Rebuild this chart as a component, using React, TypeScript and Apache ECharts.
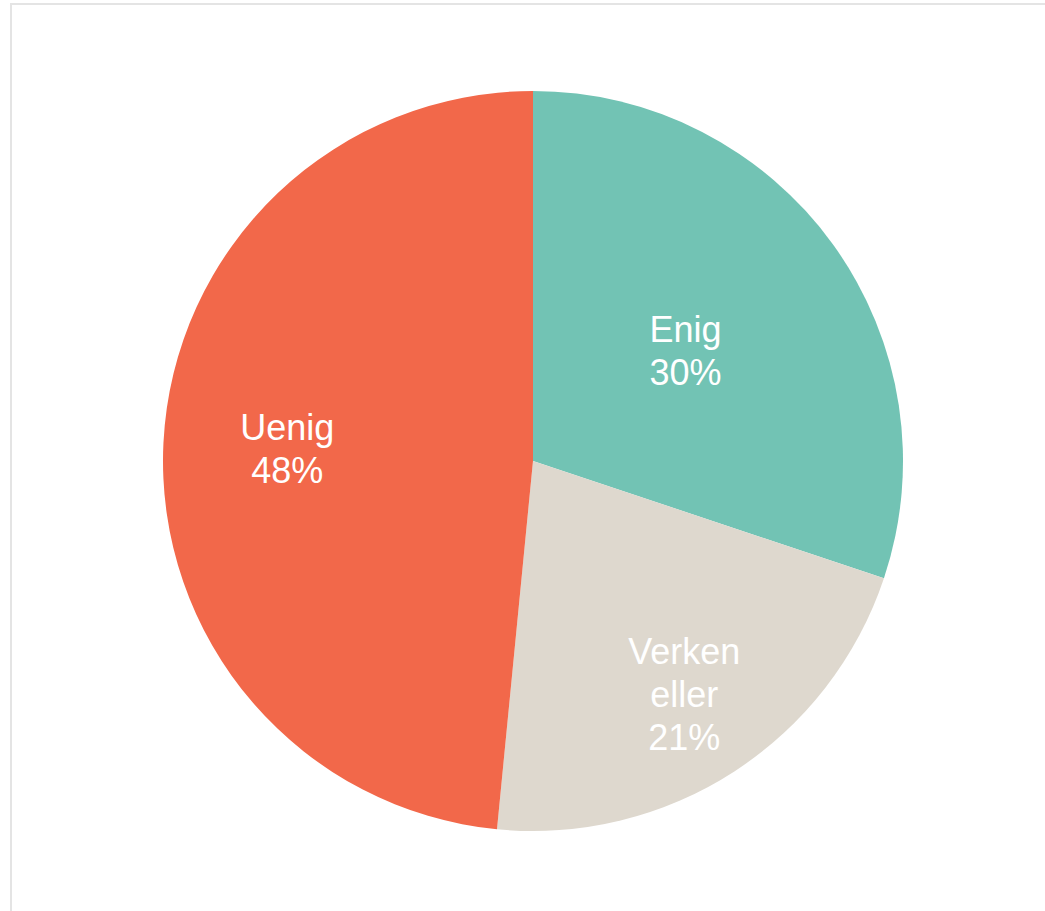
import React, { useEffect, useRef } from "react";
import * as echarts from "echarts";

const categories = ["Enig", "Verken eller", "Uenig"];
const labelLines = ["Enig", "Verken\neller", "Uenig"];
const values = [30.1, 21.4, 48.4];
const colors = ["#72c3b4", "#ded8ce", "#f2684a"];
// inner radius (for label placement only) of the overlay series for each slice
const labelInner = [0, 180, 116];

const FONT = "'Liberation Sans', Arial, sans-serif";

export default function App() {
  const ref = useRef<HTMLDivElement>(null);

  useEffect(() => {
    if (!ref.current) return;
    const chart = echarts.init(ref.current, null, { renderer: "svg" });

    const makeData = (labelIndex: number, visible: boolean) =>
      categories.map((name, i) => ({
        name,
        value: values[i],
        itemStyle: { color: visible ? colors[i] : "rgba(0,0,0,0)" },
        label: { show: i === labelIndex },
      }));

    const labelStyle = {
      position: "inside" as const,
      color: "#ffffff",
      fontFamily: FONT,
      fontSize: 36,
      lineHeight: 43,
      formatter: (p: any) => `${labelLines[p.dataIndex]}\n${Math.round(p.value)}%`,
    };

    const series: any[] = categories.map((_, idx) => ({
      type: "pie",
      center: [533, 461],
      radius: [labelInner[idx], 370],
      startAngle: 90,
      clockwise: true,
      silent: idx !== 0,
      z: idx === 0 ? 2 : 3,
      data: idx === 0 ? makeData(0, true) : makeData(idx, false),
      label: labelStyle,
      labelLine: { show: false },
      itemStyle: { borderWidth: 0 },
      emphasis: { disabled: true },
    }));
    series[0].radius = [0, 370];

    chart.setOption({
      animation: false,
      backgroundColor: "transparent",
      series,
    });

    return () => chart.dispose();
  }, []);

  return (
    <div style={{ position: "fixed", left: 0, top: 0, width: 1045, height: 911, background: "#fff", overflow: "hidden" }}>
      <div
        style={{
          position: "absolute",
          left: 10,
          top: 3,
          width: 1100,
          height: 1000,
          borderLeft: "2px solid #e4e4e4",
          borderTop: "2px solid #e4e4e4",
        }}
      />
      <div ref={ref} style={{ position: "absolute", left: 0, top: 0, width: 1045, height: 911 }} />
    </div>
  );
}
